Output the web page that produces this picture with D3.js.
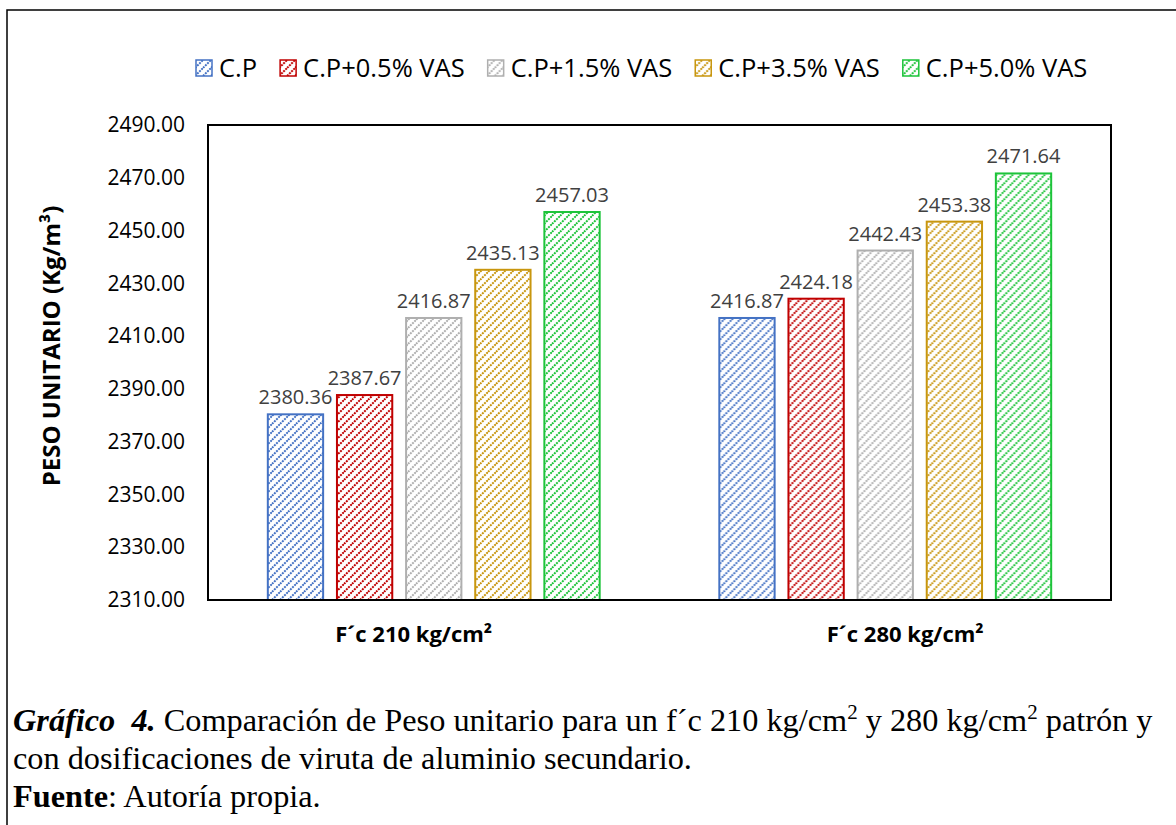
<!DOCTYPE html>
<html>
<head>
<meta charset="utf-8">
<script src="https://cdn.jsdelivr.net/npm/d3@7"></script>
<style>
  body { margin: 0; background: #fff; }
  svg text { white-space: pre; }
</style>
</head>
<body>
<div id="chart"></div>
<script>
// data
var categories = ["F´c 210 kg/cm²       ", "       F´c 280 kg/cm²"];
var series = ["C.P", "C.P+0.5% VAS", "C.P+1.5% VAS", "C.P+3.5% VAS", "C.P+5.0% VAS"];
var colors = ["#4472C4", "#C00000", "#AFAFAF", "#C8960E", "#1DC43A"];
var values210 = [2380.36, 2387.67, 2416.87, 2435.13, 2457.03];
var values280 = [2416.87, 2424.18, 2442.43, 2453.38, 2471.64];
var yTicks = [2310, 2330, 2350, 2370, 2390, 2410, 2430, 2450, 2470, 2490];

var width = 1176, height = 825;
var margin = {top: 125, right: 65, bottom: 225, left: 208};

var svg = d3.select("#chart").append("svg")
    .attr("width", width)
    .attr("height", height);

// outer document frame
svg.append("rect")
    .attr("x", 7).attr("y", 10)
    .attr("width", 1200).attr("height", 900)
    .attr("fill", "none")
    .attr("stroke", "#000")
    .attr("stroke-width", 1.5);

// hatch patterns (wide upward diagonal)
var defs = svg.append("defs");
series.forEach(function(s, i){
    var p = defs.append("pattern")
        .attr("id", "hatch" + i)
        .attr("patternUnits", "userSpaceOnUse")
        .attr("width", 8).attr("height", 8);
    p.append("rect").attr("width", 8).attr("height", 8).attr("fill", "#fff");
    p.append("path")
        .attr("d", "M-2,2 l4,-4 M0,8 l8,-8 M6,10 l4,-4")
        .attr("stroke", colors[i])
        .attr("stroke-width", 2)
        .attr("stroke-dasharray", "2,1");
});

var x0 = d3.scaleBand()
    .domain(categories)
    .range([margin.left, width - margin.right]);

var groupW = x0.bandwidth() * 0.735;
var x1 = d3.scaleBand()
    .domain(series)
    .range([(x0.bandwidth() - groupW) / 2, (x0.bandwidth() + groupW) / 2])
    .paddingInner(0.2);

var y = d3.scaleLinear()
    .domain([2310, 2490])
    .range([height - margin.bottom, margin.top]);

var color = d3.scaleOrdinal().domain(series).range(colors);

var table = categories.map(function(c, ci){
    var vals = ci === 0 ? values210 : values280;
    return {cat: c, items: series.map(function(s, si){ return {s: s, i: si, v: vals[si]}; })};
});

// y axis labels
var yAxis = d3.axisLeft(y)
    .tickValues(yTicks)
    .tickFormat(d3.format(".2f"))
    .tickSize(0)
    .tickPadding(23);

svg.append("g")
    .attr("transform", "translate(" + margin.left + ",0)")
    .call(yAxis)
    .call(function(g){ g.select(".domain").remove(); })
    .selectAll("text")
    .style("font-family", "'Open Sans', sans-serif")
    .style("font-size", "21px")
    .attr("fill", "#000");

// bars
var groups = svg.selectAll("g.cat")
    .data(table)
    .enter().append("g")
    .attr("class", "cat")
    .attr("transform", function(d){ return "translate(" + x0(d.cat) + ",0)"; });

groups.selectAll("rect")
    .data(function(d){ return d.items; })
    .enter().append("rect")
    .attr("x", function(d){ return x1(d.s); })
    .attr("y", function(d){ return y(d.v); })
    .attr("width", x1.bandwidth())
    .attr("height", function(d){ return y(2310) - y(d.v); })
    .attr("fill", function(d){ return "url(#hatch" + d.i + ")"; })
    .attr("stroke", function(d){ return color(d.s); })
    .attr("stroke-width", 2);

groups.selectAll("text.val")
    .data(function(d){ return d.items; })
    .enter().append("text")
    .attr("class", "val")
    .attr("x", function(d){ return x1(d.s) + x1.bandwidth() / 2; })
    .attr("y", function(d){ return y(d.v) - 10; })
    .attr("text-anchor", "middle")
    .style("font-family", "'Open Sans', sans-serif")
    .style("font-size", "20px")
    .attr("fill", "#404040")
    .text(function(d){ return d3.format(".2f")(d.v); });

// plot area frame
svg.append("rect")
    .attr("x", margin.left)
    .attr("y", margin.top)
    .attr("width", width - margin.right - margin.left)
    .attr("height", height - margin.bottom - margin.top)
    .attr("fill", "none")
    .attr("stroke", "#000")
    .attr("stroke-width", 2);

// x axis labels
var xAxis = d3.axisBottom(x0).tickSize(0).tickPadding(26);
svg.append("g")
    .attr("transform", "translate(0," + (height - margin.bottom) + ")")
    .call(xAxis)
    .call(function(g){ g.select(".domain").remove(); })
    .selectAll("text")
    .style("font-family", "'Open Sans', sans-serif")
    .style("font-size", "22px")
    .style("font-weight", "bold")
    .attr("fill", "#000");

// y axis title
svg.append("text")
    .attr("transform", "translate(60," + 346 + ") rotate(-90)")
    .attr("text-anchor", "middle")
    .style("font-family", "'Open Sans', sans-serif")
    .style("font-size", "24px")
    .style("font-weight", "bold")
    .text("PESO UNITARIO (Kg/m³)");

// legend
var legend = svg.append("g").attr("transform", "translate(195,68)");
var lx = 0;
series.forEach(function(s, i){
    var g = legend.append("g").attr("transform", "translate(" + lx + ",0)");
    g.append("rect")
        .attr("x", 1).attr("y", -8)
        .attr("width", 16).attr("height", 16)
        .attr("fill", "url(#hatch" + i + ")")
        .attr("stroke", colors[i])
        .attr("stroke-width", 1.5);
    var t = g.append("text")
        .attr("x", 24).attr("y", 0)
        .attr("dy", "0.35em")
        .style("font-family", "'Open Sans', sans-serif")
        .style("font-size", "25.5px")
        .attr("fill", "#000")
        .text(s);
    lx += 24 + t.node().getComputedTextLength() + 22;
});

// caption
var cap = svg.append("g")
    .style("font-family", "'Liberation Serif', 'Times New Roman', serif")
    .style("font-size", "32.3px")
    .attr("fill", "#000");

var l1 = cap.append("text").attr("x", 13).attr("y", 731);
l1.append("tspan").style("font-weight", "bold").style("font-style", "italic").text("Gráfico  4.");
l1.append("tspan").text(" Comparación de Peso unitario para un f´c 210 kg/cm");
l1.append("tspan").attr("dy", -12).style("font-size", "21px").text("2");
l1.append("tspan").attr("dy", 12).text(" y 280 kg/cm");
l1.append("tspan").attr("dy", -12).style("font-size", "21px").text("2");
l1.append("tspan").attr("dy", 12).text(" patrón y");

cap.append("text").attr("x", 13).attr("y", 769)
    .text("con dosificaciones de viruta de aluminio secundario.");

var l3 = cap.append("text").attr("x", 13).attr("y", 807);
l3.append("tspan").style("font-weight", "bold").text("Fuente");
l3.append("tspan").text(": Autoría propia.");
</script>
</body>
</html>
